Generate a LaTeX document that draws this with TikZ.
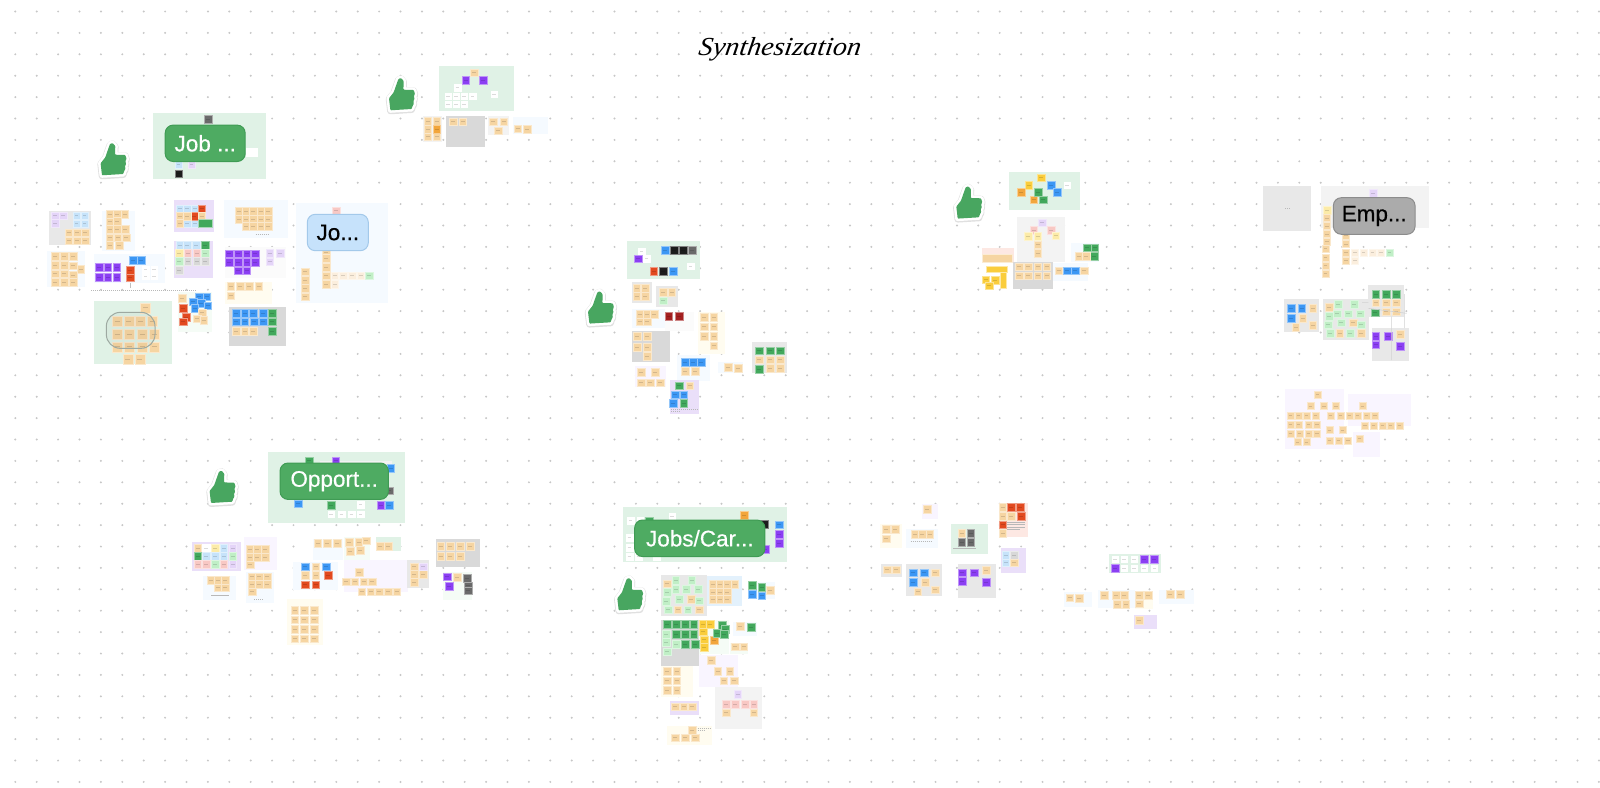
\documentclass[tikz,border=0pt]{standalone}
\usepackage{fontspec}
\setmainfont{Liberation Sans}
\newfontfamily\handfont{Liberation Serif}
\newfontfamily\nodefont[FakeBold=0.5]{Liberation Sans}
\definecolor{cOr}{HTML}{F6D5A2}
\definecolor{cPo}{HTML}{FBEEDD}
\definecolor{cDo}{HTML}{F2A63C}
\definecolor{cPu}{HTML}{8B3FF3}
\definecolor{cBl}{HTML}{3C97F4}
\definecolor{cGr}{HTML}{42A85C}
\definecolor{cRe}{HTML}{E2491F}
\definecolor{cDr}{HTML}{A31F1F}
\definecolor{cLp}{HTML}{E4D4F8}
\definecolor{cLb}{HTML}{C6E3FA}
\definecolor{cLg}{HTML}{C0EFC6}
\definecolor{cPi}{HTML}{F8C8C4}
\definecolor{cYe}{HTML}{FACD3C}
\definecolor{cLy}{HTML}{FCEBA8}
\definecolor{cBk}{HTML}{1C1C1C}
\definecolor{cGy}{HTML}{6A6A6A}
\definecolor{cMg}{HTML}{D8D8D8}
\definecolor{cWh}{HTML}{FFFFFF}
\definecolor{rGn}{HTML}{E0F2E6}
\definecolor{rPb}{HTML}{F5FAFF}
\definecolor{rPp}{HTML}{F9F5FF}
\definecolor{rPy}{HTML}{FFFCF0}
\definecolor{rPg}{HTML}{F5FCF6}
\definecolor{rSp}{HTML}{EADFF9}
\definecolor{rDg}{HTML}{D9D9D9}
\definecolor{rMg}{HTML}{E8E8E8}
\definecolor{rLg}{HTML}{F3F3F3}
\definecolor{rNw}{HTML}{FBFBFB}
\definecolor{rPr}{HTML}{FDE8E3}
\definecolor{rLb}{HTML}{E3F1FC}
\definecolor{nGn}{HTML}{4EAB62}
\definecolor{nGb}{HTML}{3F9B54}
\definecolor{nBl}{HTML}{C6E2FB}
\definecolor{nBb}{HTML}{A3C9EA}
\definecolor{nGy}{HTML}{ABABAB}
\definecolor{nGd}{HTML}{8C8C8C}
\definecolor{thG}{HTML}{48A660}
\tikzset{
  zm/.style 2 args={shift={(#1,#2)},x=0.33333pt,y=-0.33333pt},
  bignode/.style={rounded corners=8pt,line width=1pt,inner sep=0pt,font=\nodefont\fontsize{22.5}{23}\selectfont,align=center},
  greennode/.style={bignode,fill=nGn,draw=nGb,text=white},
  bluenode/.style={bignode,fill=nBl,draw=nBb,text=black},
  graynode/.style={bignode,fill=nGy,draw=nGd,text=black},
  griddot/.style={fill=black!22},
  tiny mark/.style={draw=black!28,line width=.5pt,dash pattern=on 1.2pt off .8pt},
}
\newcommand\rg[5]{\fill[#5] (#1,#2) rectangle (#3,#4);}
\newcommand\st[3][11.5]{\foreach \a/\b in {#3}{%
  \fill[#2,draw=#2!55,line width=.3pt] (\a-#1,\b-#1) rectangle (\a+#1,\b+#1);
  \draw[black,opacity=.14,line width=.8pt] (\a-#1*.5,\b) -- (\a+#1*.5,\b);}}
\newcommand\wst[5]{\fill[#5,draw=#5!45,line width=.4pt] (#1,#2) rectangle (#3,#4);}
\newcommand\tn[3]{\draw[tiny mark] (#1,#3) -- (#2,#3);}
\newcommand\thumb[2]{\begin{scope}[shift={(#1,#2)}]
  \def\thp{(-11.3,15.3) -- (-12.7,3.3) -- (-8,-2.7) -- (-5.7,-9.3) -- (-3.3,-16) -- (-.7,-17) -- (2,-14) -- (1.7,-5.3) -- (12,-5) -- (13.3,-1) -- (12,1.2) -- (12.9,4) -- (11.6,6) -- (12.2,9) -- (10.8,11) -- (10,14) -- cycle}
  \draw[black!12,line width=6.5pt,line join=round,shift={(0,.7)}] \thp;
  \draw[white,line width=5pt,line join=round] \thp;
  \fill[thG,rounded corners=.8pt] \thp;
\end{scope}}
\begin{document}
\begin{tikzpicture}[x=1pt,y=-1pt]
\useasboundingbox (0,0) rectangle (1600,787);
\fill[white] (0,0) rectangle (1600,787);
\foreach \i in {0,...,74}{\foreach \j in {0,...,36}{\fill[griddot] ({15.3+21.4*\i},{11.5+21.4*\j}) circle (1.1);}}
\node[font=\handfont\itshape\fontsize{26}{26}\selectfont,text=black,inner sep=0pt,xslant=.15,xscale=1.08] (title) at (780,49) {Synthesization};

% ---- upper left
\begin{scope}[zm={30}{60}]
\rg{369}{160}{709}{358}{rGn}
\st[11]{cGy}{534/177}
\wst{650}{266}{682}{288}{cWh}
\st[10]{cLb}{445/314}
\st[10]{cLp}{484/314}
\st[11]{cBk}{445/340}
\rg{1227}{18}{1451}{152}{rGn}
\st{cOr}{1333/38}
\st{cPu}{1307/60,1360/60}
\st[10]{cWh}{1282/83,1254/108,1278/108,1302/108,1328/108,1392/102,1254/132,1278/132,1302/132}
\rg{1178}{168}{1235}{245}{rLg}
\st{cOr}{1193/184,1220/184,1193/207,1193/230,1220/230}
\st{cDo}{1220/207}
\rg{1249}{168}{1366}{260}{rDg}
\st{cOr}{1270/185,1298/185}
\rg{1374}{168}{1438}{225}{rLg}
\st{cOr}{1390/185,1421/185,1405/212}
\rg{1450}{172}{1555}{222}{rPb}
\st{cOr}{1463/206,1492/208}
\rg{58}{452}{182}{555}{rMg}
\st{cLp}{75/467,99/467,75/490}
\rg{130}{455}{176}{500}{cLb}
\st[10]{cLb}{140/467,164/467,140/490,164/490}
\st{cOr}{116/518,141/518,166/518,116/542,141/542,166/542}
\rg{217}{452}{315}{572}{rPb}
\st{cOr}{239/463,262/463,284/463,239/485,262/483,239/507,262/507,286/507,239/533,263/533,288/533,239/556,267/556}
\rg{52}{574}{165}{680}{rPb}
\st{cOr}{75/589,102/589,130/589,75/615,102/615,130/617,152/627,75/641,103/641,130/645,75/667,103/667,130/667}
\rg{193}{583}{405}{668}{rPb}
\st{cPu}{208/622,233/622,260/622,208/652,233/652,260/652}
\st{cBl}{309/600,333/600}
\st{cRe}{300/630,300/653}
\st[9.5]{cWh}{347/628,372/628,347/648,372/648}
\tn{183}{497}{690}
\draw[black!25,line width=.5pt] (300,670) -- (300,685);
\rg{193}{722}{425}{913}{rGn}
\st[15]{cOr}{346/743,261/783,296/783,331/783,367/783,261/823,298/823,337/823,373/823,261/860,298/860,337/860,373/860,293/897,329/897}
\draw[black!30!rGn,line width=1pt,rounded corners=14pt,fill=black,fill opacity=.03] (229,757) rectangle (375,865);
\rg{433}{420}{552}{515}{rSp}
\st{cLb}{449/446,472/446,494/446,471/490,494/490}
\st{cRe}{515/446,493/468}
\st{cOr}{449/468,472/468,515/468,449/490}
\wst{505}{479}{548}{501}{cGr}
\rg{433}{542}{549}{655}{rSp}
\st{cLb}{449/556,472/556,499/556}
\st{cGr}{526/556}
\st{cLy}{447/579}
\st{cPi}{473/579,500/579}
\st{cLg}{526/579,447/604}
\st{cMg}{473/604,500/604,526/604,447/630}
\rg{581}{420}{775}{533}{rPb}
\st{cOr}{628/454,649/454,670/454,692/454,714/454,628/477,649/477,670/477,692/477,714/477,648/498,670/498,692/498,714/498}
\tn{677}{718}{522}
\rg{585}{560}{767}{655}{rNw}
\st{cPu}{598/581,624/581,650/581,676/581,598/606,624/606,650/606,676/606,624/632,650/632}
\st{cLp}{719/580,750/580,719/605}
\rg{585}{665}{725}{733}{rPy}
\st{cOr}{602/679,630/679,658/679,686/679,602/707}
\rg{598}{742}{767}{858}{rDg}
\st{cBl}{618/760,644/760,670/760,699/760,618/785,644/785,672/785,699/785}
\st{cGr}{726/760,726/785,726/813}
\st{cOr}{618/813,644/813,670/813}
\rg{445}{695}{545}{815}{rPg}
\st{cOr}{457/714}
\st{cRe}{459/745,468/771,459/785}
\st{cBl}{508/710,530/710,490/725,514/730,533/737,494/745}
\st{cOr}{516/758,501/776,521/780}
\rg{797}{430}{1073}{730}{rPb}
\st{cPi}{918/452}
\st{cOr}{888/578,888/594,888/621,888/647,888/673,825/635,825/660,825/685,825/710}
\st{cPo}{914/647,940/647,966/647,992/647,914/673}
\st{cLg}{1018/647}
\end{scope}

% ---- lower left
\begin{scope}[zm={170}{440}]
\rg{295}{35}{705}{248}{rGn}
\rg{450}{62}{665}{72}{rLg}
\st{cGr}{417/62,483/195}
\st{cPu}{497/62,632/195}
\st{cBl}{662/85,384/191,657/195}
\st{cGy}{658/152}
\st[10]{cWh}{572/194,483/222,514/222,544/222,572/222}
\rg{66}{305}{212}{392}{rSp}
\st{cOr}{83/324}
\st{cWh}{109/324}
\st{cLy}{135/324}
\st{cLb}{161/324,109/348,135/348,161/348}
\st{cLp}{188/324,188/373}
\st{cGr}{83/348}
\st{cLg}{188/348,135/373}
\st{cPi}{83/373,109/373,161/373}
\rg{222}{292}{320}{390}{rPp}
\st{cOr}{240/327,262/327,285/327,240/351,262/351,285/351,240/374}
\rg{100}{407}{197}{480}{rPb}
\st{cOr}{122/421,144/421,166/421,144/443,166/443}
\tn{124}{176}{466}
\rg{228}{395}{313}{490}{rPb}
\st{cOr}{246/410,268/410,292/410,246/433,268/433,292/433,246/455}
\tn{252}{278}{478}
\rg{350}{478}{460}{615}{rPy}
\st{cOr}{374/511,403/511,433/511,374/539,403/539,433/539,374/567,403/567,433/567,374/596,403/596,433/596}
\rg{429}{297}{518}{360}{rPb}
\st{cOr}{443/310,472/310,502/310}
\rg{523}{292}{600}{360}{rPg}
\st{cOr}{538/306,566/306,589/302,541/333,571/331}
\rg{617}{291}{692}{332}{rGn}
\st{cOr}{630/319,655/319}
\rg{369}{365}{505}{450}{rPb}
\st{cBl}{405/380,469/380}
\st{cOr}{437/380,405/406,437/406}
\st{cRe}{474/405,405/434,437/434}
\rg{522}{360}{714}{456}{rPp}
\st{cOr}{568/397,528/425,554/425,581/425,607/425,575/455,602/455,628/455,654/455,680/455}
\rg{712}{361}{777}{443}{rMg}
\st{cOr}{733/380,733/403,759/403,733/427}
\st{cLp}{759/380}
\rg{797}{298}{929}{380}{rDg}
\st{cOr}{812/319,840/319,870/319,900/319,812/349,840/349,870/349}
\rg{820}{395}{907}{480}{rPg}
\st{cPu}{832/410,838/438}
\st{cOr}{861/412}
\st{cGy}{891/415,895/437,895/452}
\end{scope}

% ---- centre upper
\begin{scope}[zm={570}{230}]
\rg{172}{33}{390}{146}{rGn}
\st[10]{cWh}{215/63,230/86,362/108}
\st{cPu}{204/86}
\st{cBl}{285/60,309/123}
\st{cBk}{312/60,339/60,280/123}
\st{cGy}{367/60}
\st{cRe}{251/123}
\rg{185}{157}{247}{219}{rMg}
\st{cOr}{200/174,225/174,200/199,225/199}
\rg{259}{168}{325}{231}{rMg}
\st{cOr}{279/187,305/187}
\st{cLg}{279/212}
\rg{185}{237}{285}{295}{rPb}
\st{cOr}{209/253,231/253,253/253,209/275,231/275}
\rg{285}{245}{373}{302}{rNw}
\st{cDr}{296/258,328/258}
\rg{383}{245}{465}{372}{rPy}
\st{cOr}{403/262,431/262,403/290,431/290,403/319,431/319,431/347}
\rg{185}{304}{300}{397}{rDg}
\st{cOr}{202/318,231/318,202/351,231/351,231/379}
\rg{320}{375}{420}{452}{rPb}
\st{cBl}{346/397,370/397,393/397}
\st{cOr}{346/424,376/424}
\rg{195}{408}{287}{472}{rPp}
\st{cOr}{213/427,255/427,213/458,241/458,271/458}
\rg{443}{397}{520}{430}{rPb}
\st{cOr}{474/412,504/415}
\rg{300}{450}{386}{551}{rSp}
\st{cGr}{328/467,341/520}
\st{cOr}{359/467}
\st{cBl}{315/494,341/494,310/520}
\tn{303}{382}{538}
\tn{303}{330}{545}
\rg{547}{336}{652}{430}{rMg}
\st{cGr}{568/362,600/362,630/362,567/418}
\st{cOr}{568/389,600/389,630/389,600/415,630/415}
\end{scope}

% ---- centre lower
\begin{scope}[zm={600}{500}]
\rg{68}{22}{560}{187}{rGn}
\st[10]{cWh}{92/62,120/62,216/50,88/113,88/142,88/170,115/170,170/170}
\st{cGr}{147/62}
\st{cDo}{432/45}
\st{cBk}{494/73}
\st{cBl}{537/74}
\st{cPu}{537/102,537/130,495/148}
\rg{183}{225}{322}{348}{rMg}
\st{cOr}{201/251,273/297,233/329,297/329}
\st{cLg}{227/241,275/241,227/268,259/268,295/268,201/277,237/297,297/302,198/303,205/329,263/329}
\rg{322}{228}{425}{317}{rLb}
\st{cOr}{338/253,360/253,382/253,404/253,338/276,360/276,382/276,338/297,360/297,382/297}
\rg{445}{245}{525}{298}{rPb}
\st{cGr}{457/255,485/262}
\st{cBl}{457/283,485/287}
\st{cOr}{511/270}
\rg{298}{360}{387}{462}{rPg}
\rg{183}{360}{298}{497}{rDg}
\st{cGr}{201/373,229/373,255/373,281/373,229/403,255/403,281/403,255/432,285/432}
\st{cLg}{199/403,199/427,229/432,201/455}
\st{cYe}{309/372,331/372,309/395,313/419,313/441}
\st{cDo}{342/421}
\st{cGr}{367/375,375/388,352/400,373/403}
\rg{400}{365}{470}{408}{rPb}
\st{cOr}{421/379}
\st{cGr}{454/381}
\rg{390}{430}{445}{462}{rPg}
\st{cOr}{405/440,431/440}
\rg{183}{497}{278}{590}{rPy}
\st{cOr}{201/514,230/514,201/542,230/542,201/570,230/570}
\rg{298}{465}{413}{560}{rPp}
\st{cOr}{333/481,353/514,389/514,371/542,403/542}
\rg{210}{603}{298}{645}{rSp}
\st{cOr}{225/620,251/620,277/620}
\rg{345}{560}{487}{688}{rLg}
\st{cLp}{413/583}
\st{cPi}{378/612,406/612,435/612,461/612}
\st{cOr}{378/638,461/638}
\rg{200}{678}{335}{735}{rPy}
\st{cOr}{277/690,225/713,255/713,285/713}
\tn{293}{330}{685}
\tn{293}{316}{692}
\end{scope}

% ---- right lower
\begin{scope}[zm={870}{490}]
\rg{155}{42}{205}{88}{rPp}
\st{cOr}{172/57}
\rg{30}{102}{97}{175}{rPy}
\st{cOr}{48/118,76/118,48/146}
\rg{108}{118}{205}{175}{rPb}
\st{cOr}{135/132,157/132,179/132}
\tn{122}{184}{154}
\rg{243}{102}{353}{192}{rGn}
\st{cOr}{275/130}
\st{cGy}{302/130,275/157,302/157}
\tn{250}{318}{176}
\rg{387}{40}{473}{142}{rPr}
\st{cOr}{398/51,398/79,424/79,398/129}
\st{cRe}{424/51,450/51,454/79,398/104}
\tn{412}{465}{97}
\tn{412}{465}{104}
\tn{412}{465}{111}
\tn{412}{450}{118}
\rg{392}{175}{468}{248}{rSp}
\st{cLb}{407/195,407/218}
\st{cMg}{433/195}
\st{cOr}{433/218}
\rg{33}{222}{95}{261}{rMg}
\st{cOr}{51/239,78/239}
\rg{109}{222}{216}{318}{rMg}
\st{cBl}{130/248,162/248,130/277}
\st{cOr}{195/248,165/277,195/299,143/305}
\rg{264}{222}{378}{323}{rMg}
\st{cPu}{277/248,313/248,276/273,348/277}
\st{cOr}{348/241}
\rg{717}{191}{872}{249}{rGn}
\st[9.5]{cWh}{735/208,762/208,792/208,762/235,792/235,822/235,853/235}
\st{cPu}{822/208,853/208,735/235}
\rg{583}{305}{665}{350}{rPb}
\st{cOr}{599/323,627/325}
\rg{683}{300}{795}{355}{rPb}
\st{cOr}{703/315,738/315,762/315,741/342,767/342}
\rg{795}{303}{850}{358}{rPy}
\st{cOr}{808/315,834/315,808/341}
\rg{867}{300}{972}{343}{rPb}
\st{cOr}{900/313,930/313}
\rg{793}{376}{862}{416}{rSp}
\st{cOr}{808/391}
\end{scope}

% ---- right upper-middle
\begin{scope}[zm={940}{160}]
\rg{207}{36}{420}{150}{rGn}
\st{cYe}{303/53,266/75}
\st{cDo}{244/97,281/119}
\st{cGr}{295/97,309/119}
\st{cBl}{334/75,351/97}
\st[10]{cWh}{381/75}
\rg{231}{171}{375}{307}{rLg}
\st{cLp}{307/188}
\st{cPi}{281/210,333/210}
\st{cLy}{265/229,293/229,347/227}
\st{cOr}{293/254,293/280}
\rg{126}{265}{222}{306}{rPr}
\wst{128}{284}{218}{306}{cOr}
\wst{139}{318}{203}{338}{cYe}
\st{cYe}{137/359,165/361,147/377}
\wst{180}{338}{200}{384}{cYe}
\rg{220}{307}{338}{386}{rDg}
\st{cOr}{237/320,264/320,293/320,320/320,237/347,264/347,293/347,320/347}
\rg{340}{310}{445}{362}{rPb}
\st{cOr}{356/332,433/332}
\st{cBl}{381/332,406/332}
\rg{393}{250}{478}{306}{rPb}
\st{cGr}{441/263,464/263,463/288}
\st{cOr}{416/288,438/288}
\end{scope}

% ---- far right
\begin{scope}[zm={1250}{170}]
\rg{40}{48}{183}{183}{rMg}
\tn{105}{118}{115}
\rg{214}{48}{538}{173}{rLg}
\st{cLp}{369/69}
\st{cLy}{231/120}
\st[10.5]{cOr}{231/144,231/168,231/192,231/215,226/236,226/262,226/287,226/311,288/197,288/222,288/247,288/272}
\st[10.5]{cPo}{315/247,341/247,367/247,393/247,315/272}
\st[10.5]{cLg}{419/247}
\rg{103}{388}{207}{485}{rMg}
\st{cBl}{123/414,155/414,123/445}
\st{cOr}{188/414,158/445,137/472,188/466}
\rg{220}{388}{356}{509}{rMg}
\st{cOr}{237/412,309/458,269/490,333/490}
\st{cLg}{264/403,312/403,262/431,294/431,331/431,235/464,273/458,333/464,241/490,300/490,237/438}
\rg{355}{345}{462}{440}{rMg}
\st{cGr}{377/372,408/372,439/372,375/428}
\st{cOr}{377/398,408/398,439/398,408/425,439/425}
\rg{366}{474}{476}{574}{rMg}
\st{cPu}{377/498,414/498,377/524,450/528}
\st{cOr}{450/492}
\draw[black!18,line width=.6pt] (336,397) -- (355,397) (355,415) -- (470,430) (463,372) -- (463,474) (425,440) -- (425,570);
\rg{105}{658}{282}{837}{rPp}
\rg{293}{672}{483}{767}{rPp}
\rg{310}{787}{390}{860}{rPp}
\st[10.5]{cOr}{203/674,181/708,222/708,258/708,337/708,121/737,146/737,170/737,197/737,241/737,272/737,298/737,323/737,349/737,375/737,121/764,146/764,175/764,201/764,345/766,371/766,397/766,422/766,448/766,121/791,148/791,175/791,201/791,238/780,278/780,143/816,169/816,238/811,265/811,294/811,329/805}
\end{scope}

% ---- thumbs
\thumb{113.3}{160}
\thumb{401.7}{95}
\thumb{222.3}{487.7}
\thumb{600.7}{308.3}
\thumb{630}{595}
\thumb{969}{203.3}

% ---- headline nodes
\node[greennode,minimum width=80pt,minimum height=36.4pt] (job) at (205.2,143.3) {Job ...};
\node[bluenode,minimum width=61pt,minimum height=36.4pt] (jo) at (337.8,232.5) {Jo...};
\node[greennode,minimum width=108.3pt,minimum height=36.4pt] (opp) at (334.2,481.2) {Opport...};
\node[greennode,minimum width=130.3pt,minimum height=36.6pt] (jobs) at (699.8,538.3) {Jobs/Car...};
\node[graynode,minimum width=81.7pt,minimum height=36.6pt] (emp) at (1374.2,216) {Emp...};
\end{tikzpicture}
\end{document}
